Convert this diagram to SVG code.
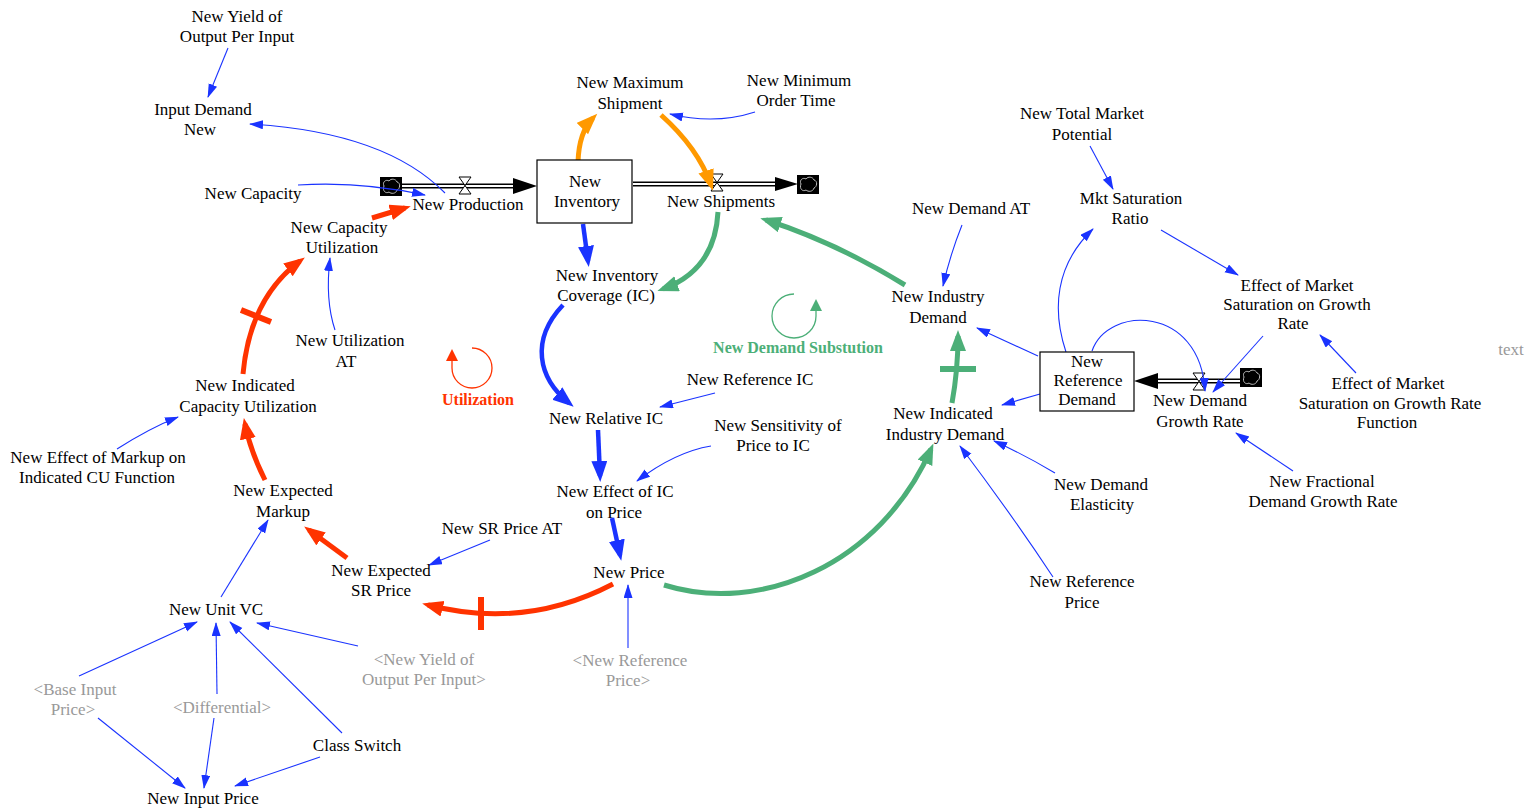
<svg xmlns="http://www.w3.org/2000/svg" width="1533" height="810" viewBox="0 0 1533 810">
<style>
text{font-family:"Liberation Serif","Times New Roman",serif;font-size:17px;fill:#000;text-anchor:middle}
.g{fill:#999}
.lr{fill:#ff3300;font-weight:bold;font-size:16px}
.lg{fill:#4caf78;font-weight:bold;font-size:16px}
.b{fill:none;stroke:#1a33ff;stroke-width:1.1}
.bt{fill:none;stroke:#1a33ff;stroke-width:4.5}
.r{fill:none;stroke:#ff3300;stroke-width:5}
.o{fill:none;stroke:#ff9900;stroke-width:5}
.gr{fill:none;stroke:#4caf78;stroke-width:5}
.pipe{fill:none;stroke:#000;stroke-width:5}
.pipein{fill:none;stroke:#fff;stroke-width:2.2}
.valve{fill:#fff;stroke:#000;stroke-width:1}
.stock{fill:#fff;stroke:#000;stroke-width:1.2}
</style>
<defs>
<marker id="mb" markerUnits="userSpaceOnUse" markerWidth="14" markerHeight="10" refX="13" refY="4.5" orient="auto"><path d="M0,0 L14,4.5 L0,9 Z" fill="#1a33ff"/></marker>
<marker id="mbt" markerUnits="userSpaceOnUse" markerWidth="22" markerHeight="18" refX="15" refY="8" orient="auto"><path d="M0,0 L21,8 L0,16 Z" fill="#1a33ff"/></marker>
<marker id="mr" markerUnits="userSpaceOnUse" markerWidth="22" markerHeight="18" refX="15" refY="8" orient="auto"><path d="M0,0 L21,8 L0,16 Z" fill="#ff3300"/></marker>
<marker id="mo" markerUnits="userSpaceOnUse" markerWidth="22" markerHeight="18" refX="15" refY="8" orient="auto"><path d="M0,0 L21,8 L0,16 Z" fill="#ff9900"/></marker>
<marker id="mg" markerUnits="userSpaceOnUse" markerWidth="22" markerHeight="18" refX="15" refY="8" orient="auto"><path d="M0,0 L21,8 L0,16 Z" fill="#4caf78"/></marker>
<marker id="mlr" markerUnits="userSpaceOnUse" markerWidth="12" markerHeight="12" refX="10" refY="6" orient="auto"><path d="M0,0 L12,6 L0,12 Z" fill="#ff3300"/></marker>
<marker id="mlg" markerUnits="userSpaceOnUse" markerWidth="12" markerHeight="12" refX="10" refY="6" orient="auto"><path d="M0,0 L12,6 L0,12 Z" fill="#4caf78"/></marker>
<g id="cloud"><rect x="0" y="0" width="22" height="19" fill="#000"/><path d="M4,9 C2,5 6,2 9,4 C11,1 16,2 17,5 C21,6 20,12 17,13 C16,17 11,17 9,15 C6,17 2,14 4,9 Z" fill="#000" stroke="#bbb" stroke-width="1"/></g>
</defs>

<g id="flows">
<path class="pipe" d="M402,186 L515,186"/><path class="pipein" d="M402,186 L515,186"/>
<path d="M513,178 L537,186 L513,194 Z" fill="#000"/>
<use href="#cloud" x="380" y="177"/>
<path class="valve" d="M459,177 L471,177 L459,194 L471,194 Z"/>
<path class="pipe" d="M633,184 L777,184"/><path class="pipein" d="M633,184 L777,184"/>
<path d="M775,177 L798,184 L775,191 Z" fill="#000"/>
<use href="#cloud" x="797" y="175"/>
<path class="valve" d="M711,174 L723,174 L711,191 L723,191 Z"/>
<path class="pipe" d="M1155,381 L1240,381"/><path class="pipein" d="M1155,381 L1240,381"/>
<path d="M1158,373 L1134,381 L1158,389 Z" fill="#000"/>
<use href="#cloud" x="1240" y="368"/>
<path class="valve" d="M1193,373 L1205,373 L1193,390 L1205,390 Z"/>
</g>

<g id="connectors">
<path class="b" d="M228,48 L208,97" marker-end="url(#mb)"/>
<path class="b" d="M445,193 Q385,132 250,124" marker-end="url(#mb)"/>
<path class="b" d="M298,185 Q360,181 425,195" marker-end="url(#mb)"/>
<path class="b" d="M755,112 Q715,125 670,114" marker-end="url(#mb)"/>
<path class="b" d="M715,393 L660,407" marker-end="url(#mb)"/>
<path class="b" d="M711,446 Q675,452 637,481" marker-end="url(#mb)"/>
<path class="b" d="M962,225 Q950,255 943,286" marker-end="url(#mb)"/>
<path class="b" d="M1038,356 L977,328" marker-end="url(#mb)"/>
<path class="b" d="M1040,394 L1002,405" marker-end="url(#mb)"/>
<path class="b" d="M1066,352 C1052,310 1055,265 1093,229" marker-end="url(#mb)"/>
<path class="b" d="M1092,351 C1108,305 1200,305 1205,391" marker-end="url(#mb)"/>
<path class="b" d="M1090,146 L1113,189" marker-end="url(#mb)"/>
<path class="b" d="M1161,230 L1238,275" marker-end="url(#mb)"/>
<path class="b" d="M1263,336 L1213,392" marker-end="url(#mb)"/>
<path class="b" d="M1356,373 L1320,335" marker-end="url(#mb)"/>
<path class="b" d="M1293,471 L1236,433" marker-end="url(#mb)"/>
<path class="b" d="M1055,473 Q1025,455 994,441" marker-end="url(#mb)"/>
<path class="b" d="M1053,577 Q1012,515 960,446" marker-end="url(#mb)"/>
<path class="b" d="M490,540 L429,565" marker-end="url(#mb)"/>
<path class="b" d="M221,597 L268,520" marker-end="url(#mb)"/>
<path class="b" d="M117,449 Q150,428 178,417" marker-end="url(#mb)"/>
<path class="b" d="M335,330 Q325,300 330,258" marker-end="url(#mb)"/>
<path class="b" d="M79,676 L197,622" marker-end="url(#mb)"/>
<path class="b" d="M217,694 L216,623" marker-end="url(#mb)"/>
<path class="b" d="M342,733 L230,622" marker-end="url(#mb)"/>
<path class="b" d="M358,646 L257,623" marker-end="url(#mb)"/>
<path class="b" d="M98,718 L185,788" marker-end="url(#mb)"/>
<path class="b" d="M214,718 L204,788" marker-end="url(#mb)"/>
<path class="b" d="M320,757 L235,786" marker-end="url(#mb)"/>
<path class="b" d="M628,648 L628,585" marker-end="url(#mb)"/>

<path class="bt" d="M583,224 L588,261" marker-end="url(#mbt)"/>
<path class="bt" d="M563,305 C530,340 538,378 569,403" marker-end="url(#mbt)"/>
<path class="bt" d="M598,430 L600,476" marker-end="url(#mbt)"/>
<path class="bt" d="M612,518 L620,555" marker-end="url(#mbt)"/>

<path class="o" d="M578,162 Q579,132 593,118" marker-end="url(#mo)"/>
<path class="o" d="M661,115 Q698,148 711,185" marker-end="url(#mo)"/>

<path class="gr" d="M718,212 Q715,270 663,289" marker-end="url(#mg)"/>
<path class="gr" d="M905,285 Q835,242 766,220" marker-end="url(#mg)"/>
<path class="gr" d="M664,585 C760,615 880,565 931,449" marker-end="url(#mg)"/>
<path class="gr" d="M952,403 Q958,370 958,336" marker-end="url(#mg)"/>
<path d="M940,369 L976,369" stroke="#4caf78" stroke-width="6"/>

<path class="r" d="M372,218 L405,208" marker-end="url(#mr)"/>
<path class="r" d="M613,584 Q525,630 428,605" marker-end="url(#mr)"/>
<path d="M481,597 L481,630" stroke="#ff3300" stroke-width="6"/>
<path class="r" d="M347,558 L309,530" marker-end="url(#mr)"/>
<path class="r" d="M265,480 Q250,450 245,424" marker-end="url(#mr)"/>
<path class="r" d="M243,374 Q250,298 300,261" marker-end="url(#mr)"/>
<path d="M241,310 L271,322" stroke="#ff3300" stroke-width="6"/>
</g>

<g id="loop-utilization">
<path d="M472,348 A20,20 0 1 1 452,368" fill="none" stroke="#ff3300" stroke-width="1.3"/>
<path d="M452,368 L452,351" fill="none" stroke="#ff3300" stroke-width="1.3" marker-end="url(#mlr)"/>
<text class="lr" x="478" y="405">Utilization</text>
</g>
<g id="loop-demand">
<path d="M794,294 A22,22 0 1 0 816,316" fill="none" stroke="#4caf78" stroke-width="1.3"/>
<path d="M816,316 L816,301" fill="none" stroke="#4caf78" stroke-width="1.3" marker-end="url(#mlg)"/>
<text class="lg" x="798" y="353">New Demand Substution</text>
</g>

<g id="n-yield"><text x="237" y="22">New Yield of</text><text x="237" y="42">Output Per Input</text></g>
<g id="n-inputdemand"><text x="203" y="115">Input Demand</text><text x="200" y="135">New</text></g>
<g id="n-capacity"><text x="253" y="199">New Capacity</text></g>
<g id="n-production"><text x="468" y="210">New Production</text></g>
<g id="n-caputil"><text x="339" y="233">New Capacity</text><text x="342" y="253">Utilization</text></g>
<g id="n-maxship"><text x="630" y="88">New Maximum</text><text x="630" y="109">Shipment</text></g>
<g id="n-minorder"><text x="799" y="86">New Minimum</text><text x="796" y="106">Order Time</text></g>
<g id="n-inventory"><rect class="stock" x="537" y="160" width="95" height="63"/><text x="585" y="187">New</text><text x="587" y="207">Inventory</text></g>
<g id="n-shipments"><text x="721" y="207">New Shipments</text></g>
<g id="n-coverage"><text x="607" y="281">New Inventory</text><text x="606" y="301">Coverage (IC)</text></g>
<g id="n-demandat"><text x="971" y="214">New Demand AT</text></g>
<g id="n-industrydemand"><text x="938" y="302">New Industry</text><text x="938" y="323">Demand</text></g>
<g id="n-totalmarket"><text x="1082" y="119">New Total Market</text><text x="1082" y="140">Potential</text></g>
<g id="n-mktsat"><text x="1131" y="204">Mkt Saturation</text><text x="1130" y="224">Ratio</text></g>
<g id="n-effectmkt"><text x="1297" y="291">Effect of Market</text><text x="1297" y="310">Saturation on Growth</text><text x="1293" y="329">Rate</text></g>
<g id="n-text"><text class="g" x="1511" y="355">text</text></g>
<g id="n-refdemand"><rect class="stock" x="1040" y="352" width="94" height="59"/><text x="1087" y="367">New</text><text x="1088" y="386">Reference</text><text x="1087" y="405">Demand</text></g>
<g id="n-growthrate"><text x="1200" y="406">New Demand</text><text x="1200" y="427">Growth Rate</text></g>
<g id="n-effectfn"><text x="1388" y="389">Effect of Market</text><text x="1390" y="409">Saturation on Growth Rate</text><text x="1387" y="428">Function</text></g>
<g id="n-fractional"><text x="1322" y="487">New Fractional</text><text x="1323" y="507">Demand Growth Rate</text></g>
<g id="n-indicatedind"><text x="943" y="419">New Indicated</text><text x="945" y="440">Industry Demand</text></g>
<g id="n-elasticity"><text x="1101" y="490">New Demand</text><text x="1102" y="510">Elasticity</text></g>
<g id="n-refprice"><text x="1082" y="587">New Reference</text><text x="1082" y="608">Price</text></g>
<g id="n-utilat"><text x="350" y="346">New Utilization</text><text x="346" y="367">AT</text></g>
<g id="n-indicatedcu"><text x="245" y="391">New Indicated</text><text x="248" y="412">Capacity Utilization</text></g>
<g id="n-effectmarkup"><text x="98" y="463">New Effect of Markup on</text><text x="97" y="483">Indicated CU Function</text></g>
<g id="n-expmarkup"><text x="283" y="496">New Expected</text><text x="283" y="517">Markup</text></g>
<g id="n-refic"><text x="750" y="385">New Reference IC</text></g>
<g id="n-relic"><text x="606" y="424">New Relative IC</text></g>
<g id="n-sensitivity"><text x="778" y="431">New Sensitivity of</text><text x="773" y="451">Price to IC</text></g>
<g id="n-effectic"><text x="615" y="497">New Effect of IC</text><text x="614" y="518">on Price</text></g>
<g id="n-srpriceat"><text x="502" y="534">New SR Price AT</text></g>
<g id="n-expsr"><text x="381" y="576">New Expected</text><text x="381" y="596">SR Price</text></g>
<g id="n-price"><text x="629" y="578">New Price</text></g>
<g id="n-unitvc"><text x="216" y="615">New Unit VC</text></g>
<g id="n-yieldshadow"><text class="g" x="424" y="665">&lt;New Yield of</text><text class="g" x="424" y="685">Output Per Input&gt;</text></g>
<g id="n-refpriceshadow"><text class="g" x="630" y="666">&lt;New Reference</text><text class="g" x="628" y="686">Price&gt;</text></g>
<g id="n-baseinput"><text class="g" x="75" y="695">&lt;Base Input</text><text class="g" x="73" y="715">Price&gt;</text></g>
<g id="n-differential"><text class="g" x="222" y="713">&lt;Differential&gt;</text></g>
<g id="n-classswitch"><text x="357" y="751">Class Switch</text></g>
<g id="n-inputprice"><text x="203" y="804">New Input Price</text></g>
</svg>
